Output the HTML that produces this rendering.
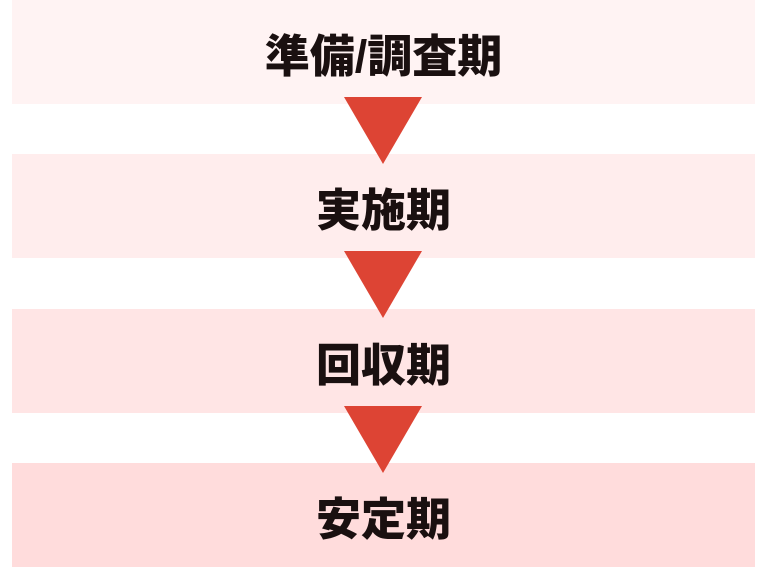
<!DOCTYPE html>
<html><head><meta charset="utf-8"><style>
html,body{margin:0;padding:0;background:#fff;width:768px;height:576px;overflow:hidden;position:relative}
.b{position:absolute;left:12px;width:743px;display:flex;align-items:center;justify-content:center;font-family:"Liberation Sans","Noto Sans CJK JP",sans-serif;font-weight:900;font-size:45px;color:#1a1010}
.t{position:absolute;left:344px;width:0;height:0;border-left:39px solid transparent;border-right:39px solid transparent;border-top:67px solid #dd4434}
</style></head><body>
<div class="b" style="top:0;height:104px;background:#fff3f3">準備/調査期</div>
<div class="b" style="top:154px;height:104px;background:#ffeded">実施期</div>
<div class="b" style="top:309px;height:104px;background:#ffe5e5">回収期</div>
<div class="b" style="top:463px;height:104px;background:#ffdcdc">安定期</div>
<div class="t" style="top:97px"></div>
<div class="t" style="top:251px"></div>
<div class="t" style="top:406px"></div>
</body></html>
